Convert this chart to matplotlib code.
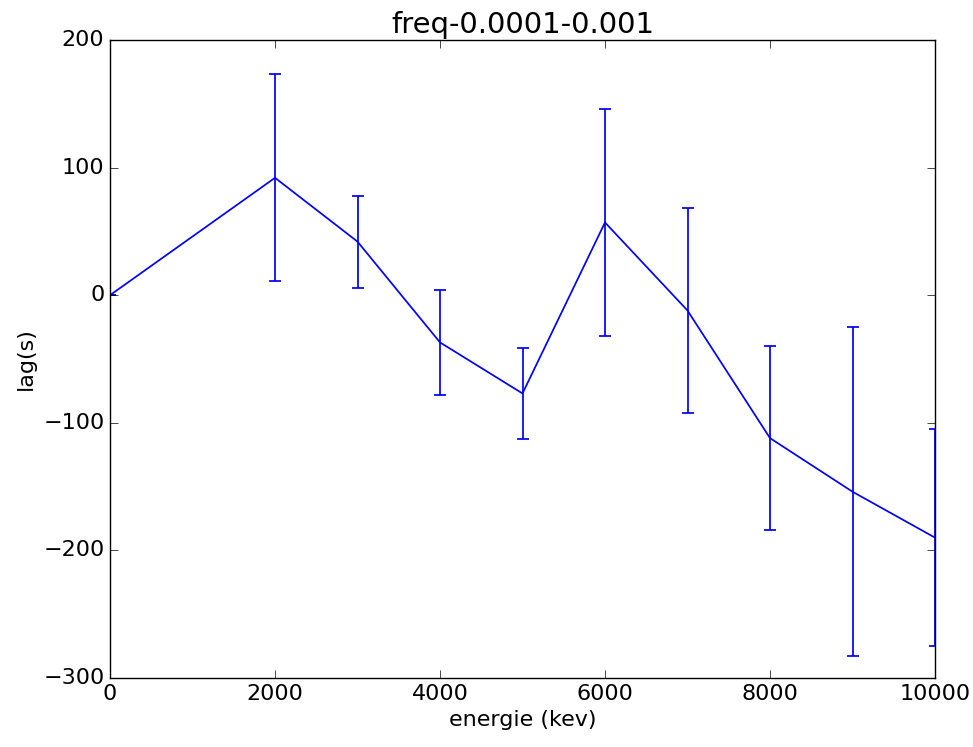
import matplotlib
matplotlib.use("Agg")
import matplotlib.pyplot as plt

plt.style.use("classic")

energie = [0, 2000, 3000, 4000, 5000, 6000, 7000, 8000, 9000, 10000]
lag = [0, 92, 42, -37, -77, 57, -12, -112, -154, -190]
lag_err = [0, 81, 36, 41, 36, 89, 80, 72, 129, 85]

fig = plt.figure(figsize=(9.73, 7.47), dpi=100)
fig.patch.set_facecolor("white")
ax = fig.add_axes([110 / 973, 69 / 747, 825 / 973, 638 / 747])

ax.errorbar(energie, lag, yerr=lag_err, color="b", capsize=4, linewidth=1.25,
            elinewidth=1.25, capthick=1.25)

ax.set_xlim(0, 10000)
ax.set_ylim(-300, 200)
ax.set_xticks([0, 2000, 4000, 6000, 8000, 10000])
ax.set_yticks([-300, -200, -100, 0, 100, 200])
ax.tick_params(labelsize=16, length=6)
ax.set_xlabel("energie (kev)", fontsize=16)
ax.set_ylabel("lag(s)", fontsize=16)
ax.set_title("freq-0.0001-0.001", fontsize=21)

fig.savefig("out.png", dpi=100, facecolor="white")
